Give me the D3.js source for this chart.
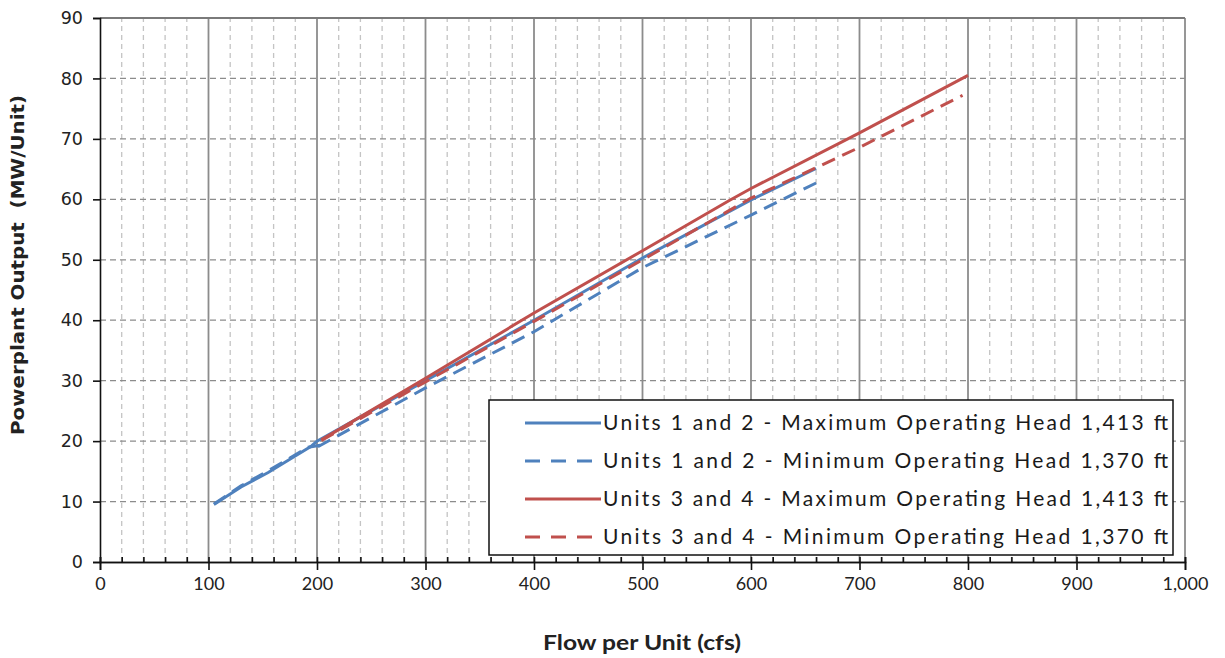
<!DOCTYPE html>
<html>
<head>
<meta charset="utf-8">
<script src="https://cdn.jsdelivr.net/npm/d3@7"></script>
<style>
  body { margin: 0; background: #fff; }
  svg { display: block; }
</style>
</head>
<body>
<div id="chart"></div>
<script>

// Set dimensions and margins for plot
const width = 1225;
const height = 658;
const margin = {left: 100, right: 40, bottom: 96, top: 18};

// Series data: flow (cfs) and output (MW/Unit)
const u12MaxFlow = [105, 130, 155, 175, 195, 200, 300, 400, 500, 600, 660];
const u12MaxMW   = [9.5, 12.4, 14.8, 17.0, 19.2, 20.0, 30.0, 40.0, 50.3, 59.9, 65.1];

const u12MinFlow = [105, 130, 155, 175, 192, 203, 198, 300, 400, 500, 600, 660];
const u12MinMW   = [9.6, 12.6, 15.1, 17.2, 19.0, 19.3, 18.8, 28.8, 38.1, 48.7, 57.4, 62.7];

const u34MaxFlow = [204, 300, 400, 500, 580, 600, 700, 800];
const u34MaxMW   = [20.2, 30.4, 41.2, 51.5, 59.8, 61.8, 71.0, 80.5];

const u34MinFlow = [204, 300, 400, 500, 600, 700, 795];
const u34MinMW   = [20.1, 29.8, 39.8, 50.0, 60.2, 68.6, 77.2];

const seriesNames = [
  "Units 1 and 2 - Maximum Operating Head 1,413 ft",
  "Units 1 and 2 - Minimum Operating Head 1,370 ft",
  "Units 3 and 4 - Maximum Operating Head 1,413 ft",
  "Units 3 and 4 - Minimum Operating Head 1,370 ft"
];

const xTicks = d3.range(0, 1001, 100);
const yTicks = d3.range(0, 91, 10);

const blue = "#4f81bd";
const red = "#c0504d";
const labelFont = "Lato, 'Open Sans', sans-serif";

const series = [
  {name: seriesNames[0], flow: u12MaxFlow, mw: u12MaxMW, color: blue, dash: null},
  {name: seriesNames[1], flow: u12MinFlow, mw: u12MinMW, color: blue, dash: "14,8"},
  {name: seriesNames[2], flow: u34MaxFlow, mw: u34MaxMW, color: red, dash: null},
  {name: seriesNames[3], flow: u34MinFlow, mw: u34MinMW, color: red, dash: "14,8"}
];

const svg = d3.select("#chart")
  .append("svg")
  .attr("width", width)
  .attr("height", height);

// scales
let xScale = d3.scaleLinear()
  .domain([0, 1000])
  .range([margin.left, width - margin.right]);

let yScale = d3.scaleLinear()
  .domain([0, 90])
  .range([height - margin.bottom, margin.top]);

const x0 = xScale(0), x1 = xScale(1000);
const y0 = yScale(0), y1 = yScale(90);

// minor vertical gridlines every 20
svg.append("g")
  .selectAll("line")
  .data(d3.range(20, 1000, 20).filter(v => v % 100 !== 0))
  .enter()
  .append("line")
    .attr("x1", d => xScale(d)).attr("x2", d => xScale(d))
    .attr("y1", y0).attr("y2", y1)
    .attr("stroke", "#c4c4c4")
    .attr("stroke-width", 1.3)
    .attr("stroke-dasharray", "5,4");

// horizontal gridlines
svg.append("g")
  .selectAll("line")
  .data(yTicks.filter(v => v > 0 && v < 90))
  .enter()
  .append("line")
    .attr("x1", x0).attr("x2", x1)
    .attr("y1", d => yScale(d)).attr("y2", d => yScale(d))
    .attr("stroke", "#8c8c8c")
    .attr("stroke-width", 1.3)
    .attr("stroke-dasharray", "6,4");

// major vertical gridlines every 100
svg.append("g")
  .selectAll("line")
  .data(xTicks.filter(v => v > 0))
  .enter()
  .append("line")
    .attr("x1", d => xScale(d)).attr("x2", d => xScale(d))
    .attr("y1", y0).attr("y2", y1)
    .attr("stroke", "#8c8c8c")
    .attr("stroke-width", 1.8);

// top line
svg.append("line")
  .attr("x1", x0).attr("x2", x1)
  .attr("y1", y1).attr("y2", y1)
  .attr("stroke", "#7a7a7a")
  .attr("stroke-width", 1.8);

// lines
const line = d3.line()
  .x(d => xScale(d[0]))
  .y(d => yScale(d[1]));

svg.append("g")
  .selectAll("path")
  .data(series)
  .enter()
  .append("path")
    .attr("d", s => line(s.flow.map((f, i) => [f, s.mw[i]])))
    .attr("fill", "none")
    .attr("stroke", s => s.color)
    .attr("stroke-width", 3)
    .attr("stroke-dasharray", s => s.dash);

// legend
const legend = svg.append("g");
legend.append("rect")
  .attr("x", 489).attr("y", 400)
  .attr("width", 684).attr("height", 155)
  .attr("fill", "#fff")
  .attr("stroke", "#111")
  .attr("stroke-width", 1.5);

const rowY = d3.scalePoint()
  .domain(seriesNames)
  .range([423, 537]);

legend.selectAll(".key")
  .data(series)
  .enter()
  .append("line")
    .attr("class", "key")
    .attr("x1", 525).attr("x2", 601)
    .attr("y1", s => rowY(s.name)).attr("y2", s => rowY(s.name))
    .attr("stroke", s => s.color)
    .attr("stroke-width", 3)
    .attr("stroke-dasharray", s => s.dash ? "15,11" : null);

legend.selectAll(".label")
  .data(series)
  .enter()
  .append("text")
    .attr("class", "label")
    .attr("x", 603)
    .attr("y", s => rowY(s.name) + 7)
    .attr("textLength", 565)
    .attr("lengthAdjust", "spacing")
    .attr("font-family", labelFont)
    .attr("font-size", "21px")
    .attr("fill", "#1a1a1a")
    .text(s => s.name);

// axes
const yAxis = svg.append("g")
  .attr("transform", `translate(${x0}, 0)`)
  .call(d3.axisLeft(yScale).tickValues(yTicks).tickSize(7).tickPadding(10));
yAxis.selectAll("text")
  .attr("font-family", "'DejaVu Sans', Verdana, sans-serif")
  .attr("font-size", "17.5px")
  .attr("fill", "#222");

const xAxis = svg.append("g")
  .attr("transform", `translate(0, ${y0})`)
  .call(d3.axisBottom(xScale).tickValues(xTicks).tickSize(8).tickPadding(7)
    .tickFormat(d3.format(",")));
xAxis.selectAll("text")
  .attr("font-family", labelFont)
  .attr("font-size", "18px")
  .attr("fill", "#222");

// minor ticks on x axis
svg.append("g")
  .attr("transform", `translate(0, ${y0})`)
  .call(d3.axisTop(xScale).tickValues(d3.range(0, 1001, 20)).tickSize(5).tickFormat(""));

svg.selectAll(".domain, .tick line")
  .attr("stroke", "#111")
  .attr("stroke-width", 1.6);

// axis titles
svg.append("text")
  .attr("x", 642).attr("y", 650)
  .attr("text-anchor", "middle")
  .attr("font-family", labelFont)
  .attr("font-weight", "bold")
  .attr("font-size", "21px")
  .attr("textLength", 198)
  .attr("lengthAdjust", "spacingAndGlyphs")
  .attr("fill", "#222")
  .text("Flow per Unit (cfs)");

svg.append("text")
  .attr("transform", `translate(24, ${(y0 + y1) / 2 - 25}) rotate(-90)`)
  .attr("text-anchor", "middle")
  .attr("font-family", "'DejaVu Sans', Verdana, sans-serif")
  .attr("font-weight", "bold")
  .attr("font-size", "18px")
  .attr("textLength", 340)
  .attr("lengthAdjust", "spacingAndGlyphs")
  .attr("fill", "#222")
  .attr("xml:space", "preserve")
  .text("Powerplant Output  (MW/Unit)");

</script>
</body>
</html>
